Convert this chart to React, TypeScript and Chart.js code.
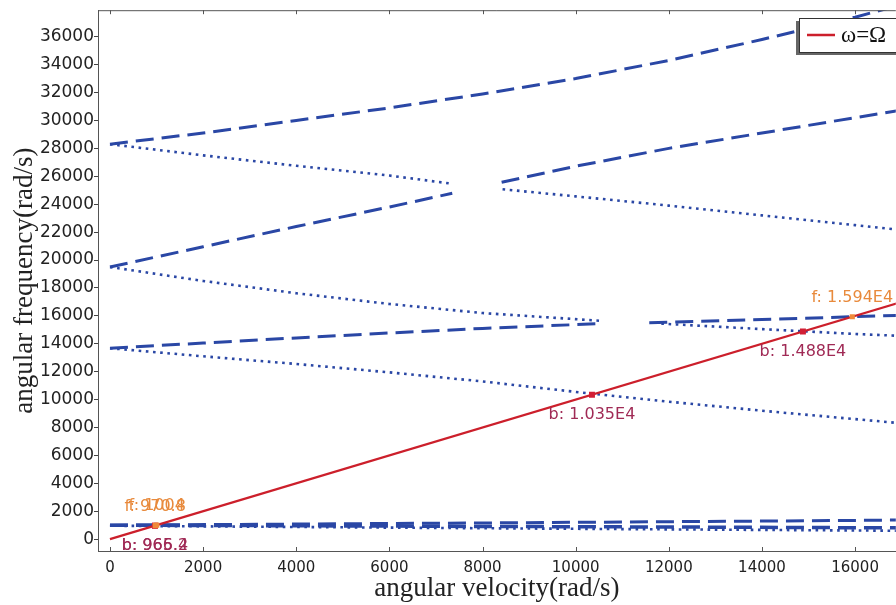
import React, { useEffect, useRef } from 'react';
import { Chart, registerables } from 'chart.js';

Chart.register(...registerables);

// ---- data (angular velocity in rad/s -> angular frequency in rad/s) ----
// upper mode pair (~28300 rad/s at rest)
const fwd3X = [0, 2000, 4000, 6000, 8000, 10000, 12000, 14000, 16000, 17000];
const fwd3Y = [28300, 29100, 30000, 30900, 31900, 33000, 34300, 35800, 37400, 38300];
const bwd3X = [0, 2000, 4000, 6000, 7340];
const bwd3Y = [28300, 27500, 26750, 26050, 25470];

// middle mode pair (~19500 rad/s at rest)
const fwd2aX = [0, 2000, 4000, 6000, 7350];
const fwd2aY = [19500, 20950, 22400, 23800, 24780];
const fwd2bX = [8410, 10000, 12000, 14000, 16000, 17000];
const fwd2bY = [25570, 26720, 28000, 29100, 30200, 30750];
const bwd2aX = [8430, 10000, 12000, 14000, 16000, 17000];
const bwd2aY = [25070, 24560, 23900, 23200, 22500, 22150];
const bwd2bX = [0, 2000, 4000, 6000, 8000, 10510];
const bwd2bY = [19500, 18500, 17620, 16850, 16200, 15650];
const bwd2cX = [11840, 14000, 16000, 17000];
const bwd2cY = [15440, 15050, 14700, 14560];

// lower mode pair (~13700 rad/s at rest)
const fwd1aX = [0, 2000, 4000, 6000, 8000, 10510];
const fwd1aY = [13680, 14050, 14420, 14770, 15100, 15440];
const fwd1bX = [11580, 14000, 16000, 17000];
const fwd1bY = [15500, 15740, 15940, 16040];
const bwd1X = [0, 2000, 4000, 6000, 8000, 10000, 12000, 14000, 16000, 17000];
const bwd1Y = [13680, 13100, 12550, 11950, 11300, 10550, 9850, 9200, 8600, 8300];

// low modes (~1000 rad/s)
const low0X = [0, 4000, 8000, 12000, 16000, 17000];
const lowFwdY = [1000, 1080, 1160, 1250, 1340, 1370];
const lowMidY = [1000, 960, 910, 870, 820, 810];
const lowBwdY = [960, 870, 780, 700, 620, 600];

// omega = Omega line
const omegaX = [0, 17000];

// crossing points
const crossB = [965.2, 966.4, 10350, 14880];
const crossBLabels = ['b: 965.2', 'b: 966.4', 'b: 1.035E4', 'b: 1.488E4'];
const crossF = [970.8, 1004, 15940];
const crossFLabels = ['f: 970.8', 'f: 1004', 'f: 1.594E4'];

// tick values
const xTickValues = [0, 2000, 4000, 6000, 8000, 10000, 12000, 14000, 16000];
const yTickValues = [
  0, 2000, 4000, 6000, 8000, 10000, 12000, 14000, 16000, 18000, 20000, 22000, 24000, 26000, 28000,
  30000, 32000, 34000, 36000,
];

const xTitle = 'angular velocity(rad/s)';
const yTitle = 'angular frequency(rad/s)';
const legendLabel = 'ω=Ω';

const BLUE = '#2a47a5';
const RED = '#cc1f2b';
const B_TEXT = '#a02a55';
const F_TEXT = '#e88a3c';
const SANS = '"DejaVu Sans", sans-serif';
const SERIF = '"Liberation Serif", "Times New Roman", serif';

const pts = (xs: number[], ys: number[]) => xs.map((x, i) => ({ x, y: ys[i] }));

const decor = {
  id: 'decor',
  afterDatasetsDraw(chart: any) {
    const { ctx, chartArea: a, scales } = chart;
    const x = scales.x;
    const y = scales.y;
    ctx.save();
    // frame top line + inward x ticks
    ctx.strokeStyle = '#555';
    ctx.lineWidth = 1;
    ctx.beginPath();
    ctx.moveTo(a.left, a.top + 0.5);
    ctx.lineTo(a.right, a.top + 0.5);
    x.ticks.forEach((t: any) => {
      const px = Math.round(x.getPixelForValue(t.value)) + 0.5;
      ctx.moveTo(px, a.bottom);
      ctx.lineTo(px, a.bottom - 4);
      ctx.moveTo(px, a.top);
      ctx.lineTo(px, a.top + 4);
    });
    ctx.stroke();

    // crossing labels
    ctx.font = '16px ' + SANS;
    ctx.textAlign = 'center';
    ctx.textBaseline = 'middle';
    ctx.fillStyle = B_TEXT;
    crossB.forEach((v, i) => {
      ctx.fillText(crossBLabels[i], x.getPixelForValue(v), y.getPixelForValue(v) + 20);
    });
    ctx.fillStyle = F_TEXT;
    crossF.forEach((v, i) => {
      ctx.fillText(crossFLabels[i], x.getPixelForValue(v), y.getPixelForValue(v) - 19);
    });

    // legend box
    const bx = 799, by = 18, bw = 110, bh = 34;
    ctx.fillStyle = '#666';
    ctx.fillRect(bx - 3, by + 3, bw, bh);
    ctx.fillStyle = '#fff';
    ctx.fillRect(bx, by, bw, bh);
    ctx.strokeStyle = '#333';
    ctx.lineWidth = 1;
    ctx.strokeRect(bx + 0.5, by + 0.5, bw, bh);
    ctx.strokeStyle = RED;
    ctx.lineWidth = 2.5;
    ctx.beginPath();
    ctx.moveTo(807, by + bh / 2);
    ctx.lineTo(835, by + bh / 2);
    ctx.stroke();
    ctx.fillStyle = '#111';
    ctx.font = '23px ' + SERIF;
    ctx.textAlign = 'left';
    ctx.textBaseline = 'middle';
    ctx.fillText(legendLabel, 841, by + bh / 2 + 1);
    ctx.restore();
  },
};

export default function App() {
  const ref = useRef<HTMLCanvasElement>(null);

  useEffect(() => {
    if (!ref.current) return;
    const dashed = (data: any[], width = 3) => ({
      data,
      showLine: true,
      borderColor: BLUE,
      backgroundColor: BLUE,
      borderWidth: width,
      borderDash: [18, 8],
      pointRadius: 0,
      fill: false,
    });
    const dotted = (data: any[]) => ({
      data,
      showLine: true,
      borderColor: BLUE,
      backgroundColor: BLUE,
      borderWidth: 2.6,
      borderDash: [2.6, 4.6],
      pointRadius: 0,
      fill: false,
    });

    const chart = new Chart(ref.current, {
      type: 'scatter',
      data: {
        datasets: [
          {
            data: crossF.map((v) => ({ x: v, y: v })),
            showLine: false,
            pointStyle: 'rect',
            pointRadius: 3.6,
            backgroundColor: '#f08a3a',
            borderColor: '#f08a3a',
            borderWidth: 0,
          } as any,
          {
            data: crossB.map((v) => ({ x: v, y: v })),
            showLine: false,
            pointStyle: 'rect',
            pointRadius: 4.2,
            backgroundColor: '#d11f35',
            borderColor: '#d11f35',
            borderWidth: 0,
          },
          {
            data: omegaX.map((v) => ({ x: v, y: v })),
            showLine: true,
            borderColor: RED,
            borderWidth: 2.2,
            pointRadius: 0,
          },
          dashed(pts(fwd3X, fwd3Y)),
          dotted(pts(bwd3X, bwd3Y)),
          dashed(pts(fwd2aX, fwd2aY)),
          dashed(pts(fwd2bX, fwd2bY)),
          dotted(pts(bwd2aX, bwd2aY)),
          dotted(pts(bwd2bX, bwd2bY)),
          dotted(pts(bwd2cX, bwd2cY)),
          dashed(pts(fwd1aX, fwd1aY)),
          dashed(pts(fwd1bX, fwd1bY)),
          dotted(pts(bwd1X, bwd1Y)),
          dashed(pts(low0X, lowFwdY)),
          dashed(pts(low0X, lowMidY), 3.5),
          dotted(pts(low0X, lowBwdY)),
        ],
      },
      options: {
        animation: false,
        responsive: false,
        devicePixelRatio: 1,
        events: [],
        layout: { padding: { top: 8, right: 2, left: 0, bottom: 0 } },
        plugins: { legend: { display: false }, tooltip: { enabled: false } },
        scales: {
          x: {
            type: 'linear',
            min: -257,
            max: 16874,
            afterBuildTicks: (s: any) => {
              s.ticks = xTickValues.map((v) => ({ value: v }));
            },
            afterFit: (s: any) => {
              s.height = 54;
            },
            ticks: {
              autoSkip: false,
              maxRotation: 0,
              padding: 0,
              color: '#222',
              font: { family: SANS, size: 15 },
              callback: (v: any) => String(v),
            },
            grid: { display: false },
            border: { display: true, color: '#555', width: 1 },
            title: {
              display: true,
              text: xTitle,
              color: '#222',
              font: { family: SERIF, size: 27 },
              padding: { top: 0, bottom: 0 },
            },
          },
          y: {
            type: 'linear',
            min: -850,
            max: 37900,
            afterBuildTicks: (s: any) => {
              s.ticks = yTickValues.map((v) => ({ value: v }));
            },
            afterFit: (s: any) => {
              s.width = 98;
            },
            ticks: {
              autoSkip: false,
              padding: 0,
              color: '#222',
              font: { family: SANS, size: 17 },
              callback: (v: any) => String(v),
            },
            grid: { display: true, drawOnChartArea: false, drawTicks: true, tickLength: 4, color: '#444' },
            border: { display: true, color: '#555', width: 1 },
            title: {
              display: true,
              text: yTitle,
              color: '#222',
              font: { family: SERIF, size: 27 },
              padding: { top: 9, bottom: 0 },
            },
          },
        },
      } as any,
      plugins: [decor],
    });
    return () => chart.destroy();
  }, []);

  return (
    <div
      style={{
        position: 'fixed',
        left: 0,
        top: 0,
        width: 896,
        height: 605,
        overflow: 'hidden',
        background: '#fff',
      }}
    >
      <canvas ref={ref} width={900} height={605} style={{ display: 'block' }} />
    </div>
  );
}
